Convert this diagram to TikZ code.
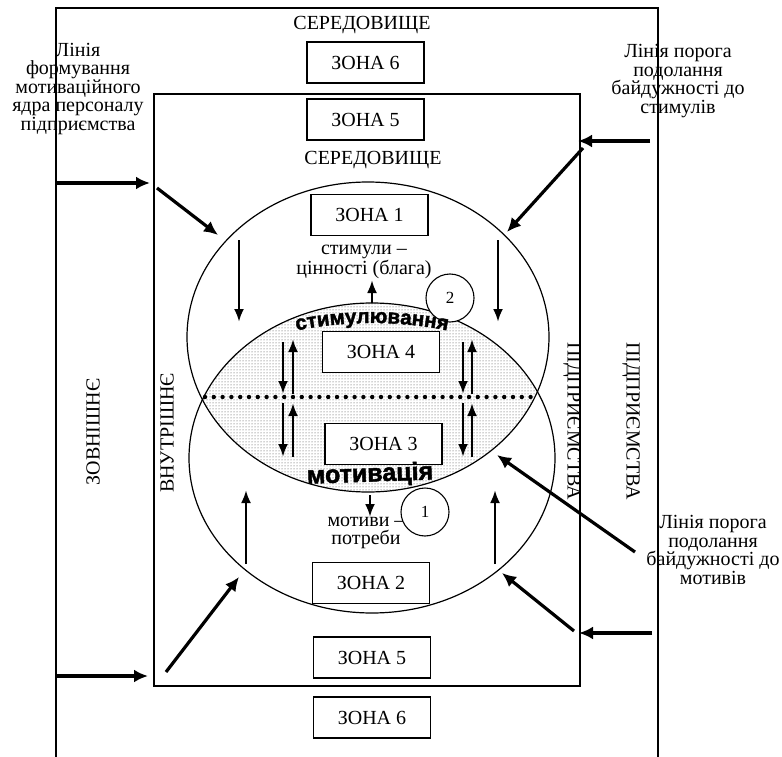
\documentclass[tikz,border=0pt]{standalone}
\usepackage{fontspec}
\setmainfont{Liberation Serif}
\newfontfamily\boldsans[BoldFeatures={FakeBold=2}]{Liberation Sans}
\usetikzlibrary{arrows.meta,patterns,decorations.text}
\newcommand\stimfont{\boldsans\bfseries\fontsize{20.5}{20}\selectfont}
\begin{document}
\begin{tikzpicture}[x=1pt,y=-1pt,
  txt/.style={font=\fontsize{20}{18.5}\selectfont, inner sep=0pt, align=center},
  zone/.style={draw, fill=white, line width=1.3pt, minimum width=117pt, minimum height=41pt, inner sep=0pt, font=\fontsize{20}{20}\selectfont},
  bigarrow/.style={line width=3.2pt, -{Latex[length=14pt,width=13pt]}},
  arr/.style={line width=2.6pt, -{Latex[length=13pt,width=10pt]}},
  num/.style={circle, draw, fill=white, minimum size=48pt, inner sep=0pt, line width=1.1pt, font=\fontsize{17}{17}\selectfont},
  frame/.style={line width=1.5pt},
  oval/.style={line width=1.2pt}]
\useasboundingbox (0,0) rectangle (782,757);
% frames
\draw[frame] (56,757) -- (56,8) -- (658,8) -- (658,757);
\draw[frame] (154,94) rectangle (580,686);
% lens pattern
\begin{scope}
\clip (368,337) ellipse [x radius=181, y radius=155];
\fill[pattern=dots, pattern color=black!75] (372,458) ellipse [x radius=183, y radius=155];
\end{scope}
\draw[oval] (368,337) ellipse [x radius=181, y radius=155];
\draw[oval] (372,458) ellipse [x radius=183, y radius=155];
% dotted line
\coordinate (dl) at (205,397);
\coordinate (dr) at (538,397);
\draw[line width=4.4pt, dash pattern=on 0pt off 8.8pt, line cap=round] (dl) -- (dr);
% zones
\node[zone] (z6t) at (365.5,62.5) {ЗОНА 6};
\node[zone] (z5t) at (365.5,119.5) {ЗОНА 5};
\node[zone] (z1) at (369.5,215) {ЗОНА 1};
\node[zone] (z4) at (381,352) {ЗОНА 4};
\node[zone] (z3) at (383.5,444) {ЗОНА 3};
\node[zone] (z2) at (371,583) {ЗОНА 2};
\node[zone] (z5b) at (372,657.5) {ЗОНА 5};
\node[zone] (z6b) at (372,717.5) {ЗОНА 6};
% texts
\node[txt] (ser1) at (362,25) {СЕРЕДОВИЩЕ};
\node[txt] (ser2) at (373,160) {СЕРЕДОВИЩЕ};
\node[txt] (lft) at (78,89) {Лінія\\формування\\мотиваційного\\ядра персоналу\\підприємства};
\node[txt] (rtop) at (678,81) {Лінія порога\\подолання\\байдужності до\\стимулів};
\node[txt] (rbot) at (713,550) {Лінія порога\\подолання\\байдужності до\\мотивів};
\node[txt, rotate=90] (zovn) at (93,432) {ЗОВНІШНЄ};
\node[txt, rotate=90] (vnut) at (167,433) {ВНУТРІШНЄ};
\node[txt, rotate=-90] (pid1) at (572,421) {ПІДПРИЄМСТВА};
\node[txt, rotate=-90] (pid2) at (631,421) {ПІДПРИЄМСТВА};
\node[txt] (stv) at (364,262) {стимули –\\цінності (блага)};
\node[txt] (mtv) at (366,533) {мотиви –\\потреби};
% circles
\node[num] (c2) at (450,298) {2};
\node[num] (c1) at (425,512) {1};
% curved bold words
\path[decorate, decoration={text along path, text={|\stimfont|стимулювання}, text align=center}]
  (372,458) ++(240:230 and 135) arc[start angle=240, end angle=300, x radius=230, y radius=135];
\node[font=\boldsans\bfseries\fontsize{25}{25}\selectfont, inner sep=0pt, rotate=2] (motiv) at (370,475) {мотивація};
% thick arrows
\coordinate (a1s) at (56,183);  \coordinate (a1e) at (150,183);
\coordinate (a2s) at (157,188); \coordinate (a2e) at (218,235);
\coordinate (a3s) at (650,141); \coordinate (a3e) at (578,141);
\coordinate (a4s) at (583,148); \coordinate (a4e) at (507,232);
\coordinate (a5s) at (56,676);  \coordinate (a5e) at (148,676);
\coordinate (a6s) at (166,672); \coordinate (a6e) at (239,577);
\coordinate (a7s) at (652,633); \coordinate (a7e) at (579,633);
\coordinate (a8s) at (574,631); \coordinate (a8e) at (502,573);
\coordinate (a9s) at (635,552); \coordinate (a9e) at (497,455);
\foreach \a in {a1,a2,a3,a4,a5,a6,a7,a8,a9}
  \draw[bigarrow] (\a s) -- (\a e);
% vertical arrows
\coordinate (v1s) at (239,240); \coordinate (v1e) at (239,322);
\coordinate (v2s) at (498,240); \coordinate (v2e) at (498,322);
\coordinate (v3s) at (283,342); \coordinate (v3e) at (283,394);
\coordinate (v4s) at (293,394); \coordinate (v4e) at (293,339);
\coordinate (v5s) at (283,403); \coordinate (v5e) at (283,457);
\coordinate (v6s) at (293,457); \coordinate (v6e) at (293,403);
\coordinate (v7s) at (463,342); \coordinate (v7e) at (463,394);
\coordinate (v8s) at (472,394); \coordinate (v8e) at (472,339);
\coordinate (v9s) at (463,403); \coordinate (v9e) at (463,457);
\coordinate (v10s) at (472,457); \coordinate (v10e) at (472,403);
\coordinate (v11s) at (246,564); \coordinate (v11e) at (246,490);
\coordinate (v12s) at (495,564); \coordinate (v12e) at (495,490);
\coordinate (s1s) at (372,303); \coordinate (s1e) at (372,280);
\coordinate (s2s) at (370,495); \coordinate (s2e) at (370,517);
\foreach \a in {v1,v2,v3,v4,v5,v6,v7,v8,v9,v10,v11,v12,s1,s2}
  \draw[arr] (\a s) -- (\a e);
\end{tikzpicture}
\end{document}
